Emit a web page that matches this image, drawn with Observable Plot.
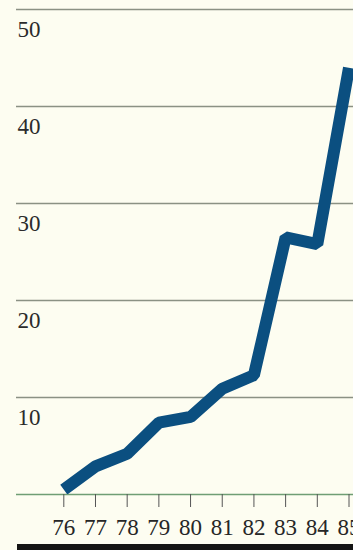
<!DOCTYPE html>
<html>
<head>
<meta charset="utf-8">
<script src="https://cdn.jsdelivr.net/npm/d3@7"></script>
<script src="https://cdn.jsdelivr.net/npm/@observablehq/plot@0.6"></script>
<style>
  html, body { margin: 0; padding: 0; background: #fdfdf1; }
  #chart svg { display: block; background: #fdfdf1; }
  #bar { margin-left: 17px; width: 336px; height: 6px; background: #141414; }
</style>
</head>
<body>
<div id="chart"></div>
<div id="bar"></div>
<script>
const years = [76, 77, 78, 79, 80, 81, 82, 83, 84, 85];
const values = [0.5, 2.9, 4.2, 7.4, 8.0, 10.9, 12.3, 26.5, 25.8, 44];
const yTicks = [10, 20, 30, 40, 50];

const data = years.map((y, i) => ({year: y, value: values[i]}));

const chart = Plot.plot({
  width: 353,
  height: 544,
  marginLeft: 16,
  marginRight: 0,
  marginTop: 9,
  marginBottom: 50,
  style: {background: "#fdfdf1", fontFamily: "'Liberation Serif', serif", color: "#333"},
  x: {domain: [76, 85], insetLeft: 47.3, insetRight: 4.5, label: null},
  y: {domain: [0, 50], axis: null, label: null},
  marks: [
    Plot.gridY(yTicks, {stroke: "#8b9184", strokeOpacity: 1, strokeWidth: 1.5}),
    Plot.ruleY([0], {stroke: "#6f9e74", strokeWidth: 1.5}),
    Plot.axisX(years, {tickSize: 13, tickPadding: 11, fontSize: 23, stroke: "#555", strokeWidth: 1, fill: "#262626", tickFormat: d => String(d), label: null}),
    Plot.text(yTicks, {y: d => d, frameAnchor: "left", dx: 1, dy: 20, text: d => String(d), textAnchor: "start", fontSize: 23, fill: "#2b2b2b"}),
    Plot.line(data, {x: "year", y: "value", stroke: "#0b4f80", strokeWidth: 12, strokeLinejoin: "miter", strokeLinecap: "butt", clip: true})
  ]
});
document.getElementById("chart").appendChild(chart);
</script>
</body>
</html>
